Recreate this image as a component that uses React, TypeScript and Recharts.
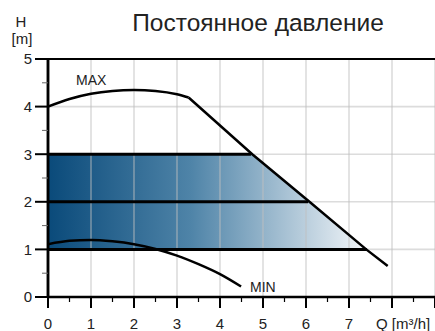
import React from 'react';
import { ComposedChart, Area, Line, XAxis, YAxis, ReferenceLine } from 'recharts';

// axis ticks (half steps get a short tick, integers get a label)
const qTicks = [0, 0.5, 1, 1.5, 2, 2.5, 3, 3.5, 4, 4.5, 5, 5.5, 6, 6.5, 7, 7.5, 8, 8.5, 9];
const hTicks = [0, 0.5, 1, 1.5, 2, 2.5, 3, 3.5, 4, 4.5, 5];
const qGrid = [1, 2, 3, 4, 5, 6, 7, 8, 9];
const hGrid = [1, 2, 3, 4];

// MAX curve: rounded top part, then the straight falling part
const maxTop = [
  { q: 0, h: 4.0 },
  { q: 0.5, h: 4.16 },
  { q: 1, h: 4.27 },
  { q: 1.5, h: 4.33 },
  { q: 2, h: 4.35 },
  { q: 2.5, h: 4.33 },
  { q: 3, h: 4.26 },
  { q: 3.27, h: 4.19 },
];
const maxSlope = [
  { q: 3.27, h: 4.19 },
  { q: 4.75, h: 3.0 },
  { q: 6.08, h: 2.0 },
  { q: 7.4, h: 1.0 },
  { q: 7.9, h: 0.65 },
];

const minCurve = [
  { q: 0, h: 1.11 },
  { q: 0.5, h: 1.18 },
  { q: 1, h: 1.2 },
  { q: 1.5, h: 1.17 },
  { q: 2, h: 1.11 },
  { q: 2.5, h: 1.01 },
  { q: 3, h: 0.87 },
  { q: 3.5, h: 0.69 },
  { q: 4, h: 0.48 },
  { q: 4.49, h: 0.22 },
];

// constant pressure range, 1..3 m, cut by the MAX curve
const pressureBand = [
  { q: 0, band: [1, 3] },
  { q: 4.75, band: [1, 3] },
  { q: 6.08, band: [1, 2] },
  { q: 7.4, band: [1, 1] },
];

const setpointH = [3, 2, 1];
const setpointEnd = [4.72, 6.05, 7.42];

const font = '"Liberation Sans", Arial, sans-serif';

const HTick = (props: any) => {
  const { x, y, payload } = props;
  const major = Number.isInteger(payload.value);
  return (
    <g>
      <line
        x1={x - (major ? 13 : 6)}
        x2={x}
        y1={y}
        y2={y}
        stroke={major ? '#000' : '#666'}
        strokeWidth={major ? 2 : 1}
      />
      {major && (
        <text x={x - 16} y={y} dy="0.36em" textAnchor="end" fontSize={15} fontFamily={font} fill="#222">
          {payload.value}
        </text>
      )}
    </g>
  );
};

const QTick = (props: any) => {
  const { x, y, payload } = props;
  const v = payload.value;
  const major = Number.isInteger(v);
  let label: string | null = null;
  if (major && v < 8) label = String(v);
  if (v === 8) label = 'Q [m³/h]';
  return (
    <g>
      <line x1={x} x2={x} y1={y} y2={y + (major ? 11 : 5)} stroke="#000" strokeWidth={major ? 2 : 1.2} />
      {label && (
        <text
          x={v === 8 ? x - 16 : x}
          y={y + 32}
          textAnchor={v === 8 ? 'start' : 'middle'}
          fontSize={15}
          fontFamily={font}
          fill="#222"
        >
          {label}
        </text>
      )}
    </g>
  );
};

export default function App() {
  return (
    <div style={{ position: 'absolute', left: 0, top: 0, width: 435, height: 331, background: '#fff' }}>
      <ComposedChart width={435} height={331} margin={{ top: 59, right: 0, bottom: 0, left: 0 }}>
        <defs>
          <linearGradient id="bandFill" x1="0" y1="0" x2="1" y2="0">
            <stop offset="0%" stopColor="#0a4a7a" />
            <stop offset="45%" stopColor="#4f84a8" />
            <stop offset="100%" stopColor="#f3f6f9" />
          </linearGradient>
        </defs>
        <XAxis
          type="number"
          dataKey="q"
          domain={[0, 9]}
          ticks={qTicks}
          interval={0}
          height={34}
          tickSize={0}
          tickMargin={0}
          tick={<QTick />}
          axisLine={{ stroke: '#000', strokeWidth: 2.5 }}
          tickLine={false}
          allowDataOverflow
        />
        <YAxis
          type="number"
          domain={[0, 5]}
          ticks={hTicks}
          interval={0}
          width={48}
          tickSize={0}
          tickMargin={0}
          tick={<HTick />}
          axisLine={{ stroke: '#000', strokeWidth: 2.5 }}
          tickLine={false}
          allowDataOverflow
        />
        <Area
          data={pressureBand}
          dataKey="band"
          type="linear"
          stroke="none"
          fill="url(#bandFill)"
          fillOpacity={1}
          isAnimationActive={false}
        />
        {qGrid.map((q) => (
          <ReferenceLine key={'gx' + q} x={q} stroke="#c0c0c0" strokeOpacity={0.55} strokeWidth={1.6} />
        ))}
        {hGrid.map((h) => (
          <ReferenceLine key={'gy' + h} y={h} stroke="#c0c0c0" strokeOpacity={0.55} strokeWidth={1.6} />
        ))}
        <ReferenceLine y={5} stroke="#000" strokeWidth={2} />
        <ReferenceLine x={0} stroke="#000" strokeWidth={2.5} />
        {setpointH.map((h, i) => (
          <Line
            key={'sp' + h}
            data={[
              { q: 0, h },
              { q: setpointEnd[i], h },
            ]}
            dataKey="h"
            type="linear"
            stroke="#000"
            strokeWidth={3}
            dot={false}
            isAnimationActive={false}
          />
        ))}
        <Line data={maxTop} dataKey="h" type="monotone" stroke="#000" strokeWidth={2.5} dot={false} isAnimationActive={false} />
        <Line data={maxSlope} dataKey="h" type="linear" stroke="#000" strokeWidth={2.5} dot={false} isAnimationActive={false} />
        <Line data={minCurve} dataKey="h" type="monotone" stroke="#000" strokeWidth={2.5} dot={false} isAnimationActive={false} />
      </ComposedChart>
      <svg
        width={435}
        height={331}
        style={{ position: 'absolute', left: 0, top: 0, pointerEvents: 'none' }}
        fontFamily={font}
        fill="#222"
      >
        <text x={258} y={30.5} textAnchor="middle" fontSize={24.5}>
          Постоянное давление
        </text>
        <text x={21} y={26.5} textAnchor="middle" fontSize={15}>
          H
        </text>
        <text x={22} y={43.5} textAnchor="middle" fontSize={15}>
          [m]
        </text>
        <text x={76} y={85} fontSize={14}>
          MAX
        </text>
        <text x={250} y={291.5} fontSize={14}>
          MIN
        </text>
      </svg>
    </div>
  );
}
